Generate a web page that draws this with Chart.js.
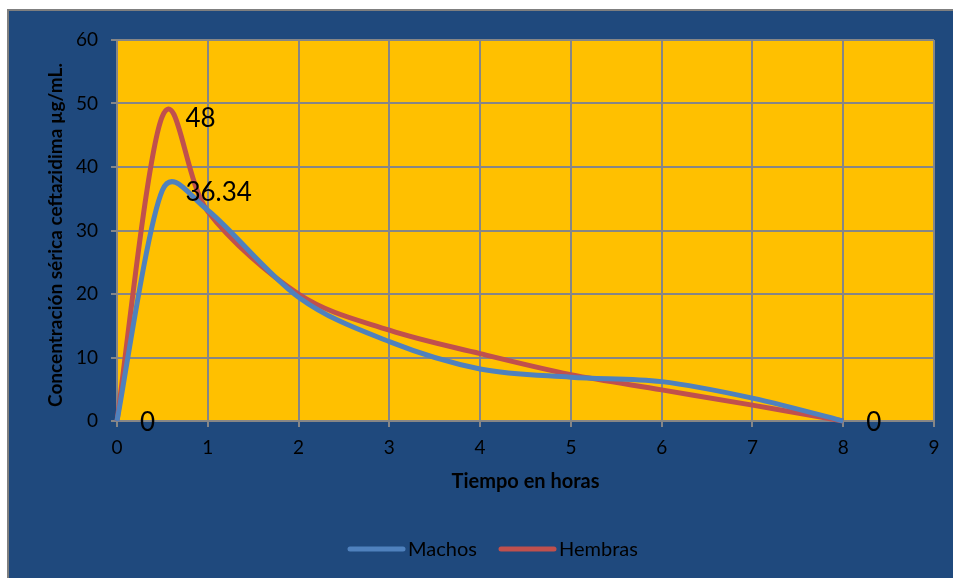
<!DOCTYPE html>
<html>
<head>
<meta charset="utf-8">
<script src="https://cdn.jsdelivr.net/npm/chart.js@4"></script>
<style>
  html, body { margin: 0; padding: 0; background: #ffffff; }
  #wrap { width: 953px; height: 578px; position: relative; }
</style>
</head>
<body>
<div id="wrap"><canvas id="c" width="953" height="578"></canvas></div>
<script>
// ---- data ----
const timeHours = [0, 0.5, 1, 2, 3, 4, 5, 6, 7, 8];
const machos    = [0, 36.34, 33.2, 19.5, 12.5, 8.2, 6.9, 6.2, 3.6, 0];
const hembras   = [0, 48, 33, 20, 14.3, 10.6, 7.3, 4.9, 2.5, 0];
const machosLabels  = [null, '36.34', null, null, null, null, null, null, null, '0'];
const hembrasLabels = ['0', '48', null, null, null, null, null, null, null, null];
const seriesNames = ['Machos', 'Hembras'];
const xTitle = 'Tiempo en horas';
const yTitle = 'Concentración sérica ceftazidima µg/mL.';
const yTicks = { min: 0, max: 60, step: 10 };
const xTicks = { min: 0, max: 9, step: 1 };

const BLUE_BG = '#1F497D';
const PLOT_BG = '#FFC000';
const GRID = '#868686';
const C_M = '#4F81BD';
const C_H = '#C0504D';
const FONT = 'Lato, "Open Sans", sans-serif';

const toXY = (xs, ys) => xs.map((x, i) => ({ x: x, y: ys[i] }));

// Excel-like smoothing: Catmull-Rom control points on the library's own point positions,
// each handle limited to half of its adjacent segment
const smoothing = {
  id: 'smoothing',
  beforeDatasetDraw(chart, args) {
    const meta = chart.getDatasetMeta(args.index);
    const pts = meta.data;
    const n = pts.length;
    const dist = (a, b) => Math.hypot(b.x - a.x, b.y - a.y);
    for (let i = 0; i < n; i++) {
      const p = pts[i];
      const prev = pts[Math.max(0, i - 1)];
      const next = pts[Math.min(n - 1, i + 1)];
      const dx = (next.x - prev.x) / 6;
      const dy = (next.y - prev.y) / 6;
      const len = Math.hypot(dx, dy) || 1;
      const kIn = Math.min(1, 0.5 * dist(prev, p) / len);
      const kOut = Math.min(1, 0.5 * dist(p, next) / len);
      p.cp1x = p.x - dx * kIn; p.cp1y = p.y - dy * kIn;
      p.cp2x = p.x + dx * kOut; p.cp2y = p.y + dy * kOut;
    }
    if (meta.dataset) {
      meta.dataset._pointsUpdated = true;
      meta.dataset._path = undefined;
    }
  }
};

const decor = {
  id: 'decor',
  beforeDraw(chart) {
    const ctx = chart.ctx;
    const a = chart.chartArea;
    ctx.save();
    ctx.fillStyle = '#ffffff';
    ctx.fillRect(0, 0, chart.width, chart.height);
    ctx.fillStyle = BLUE_BG;
    ctx.fillRect(8, 10, chart.width - 8, chart.height - 10);
    ctx.strokeStyle = '#7f7f7f';
    ctx.lineWidth = 2;
    ctx.beginPath();
    ctx.moveTo(8, chart.height);
    ctx.lineTo(8, 10);
    ctx.lineTo(chart.width, 10);
    ctx.stroke();
    ctx.fillStyle = PLOT_BG;
    ctx.fillRect(a.left, a.top, a.right - a.left, a.bottom - a.top);
    ctx.restore();
  },
  afterDraw(chart) {
    const ctx = chart.ctx;
    const a = chart.chartArea;
    ctx.save();
    // axis titles
    ctx.fillStyle = '#000';
    ctx.textAlign = 'center';
    ctx.textBaseline = 'middle';
    ctx.font = 'bold 20px ' + FONT;
    ctx.fillText(xTitle, (a.left + a.right) / 2, 482);
    ctx.save();
    ctx.font = 'bold 19px ' + FONT;
    ctx.translate(56, 235);
    ctx.rotate(-Math.PI / 2);
    ctx.fillText(yTitle, 0, 0);
    ctx.restore();

    // data labels
    ctx.font = '26px ' + FONT;
    ctx.textAlign = 'left';
    ctx.textBaseline = 'middle';
    const lbls = [machosLabels, hembrasLabels];
    chart.data.datasets.forEach((ds, di) => {
      const meta = chart.getDatasetMeta(di);
      meta.data.forEach((pt, i) => {
        const t = lbls[di][i];
        if (t) ctx.fillText(t, pt.x + 23, pt.y + 2);
      });
    });

    // legend
    const items = [
      { name: seriesNames[0], color: C_M, x0: 350, x1: 403, tx: 408 },
      { name: seriesNames[1], color: C_H, x0: 501, x1: 554, tx: 559 }
    ];
    const ly = 549;
    ctx.font = '20px ' + FONT;
    items.forEach(it => {
      ctx.strokeStyle = it.color;
      ctx.lineWidth = 5;
      ctx.lineCap = 'round';
      ctx.beginPath();
      ctx.moveTo(it.x0, ly);
      ctx.lineTo(it.x1, ly);
      ctx.stroke();
      ctx.fillStyle = '#000';
      ctx.fillText(it.name, it.tx, ly + 1);
    });
    ctx.restore();
  }
};

new Chart(document.getElementById('c'), {
  type: 'line',
  data: {
    datasets: [
      { label: seriesNames[0], data: toXY(timeHours, machos), borderColor: C_M, borderWidth: 5,
        pointRadius: 0, tension: 0.3, fill: false, clip: 6 },
      { label: seriesNames[1], data: toXY(timeHours, hembras), borderColor: C_H, borderWidth: 5,
        pointRadius: 0, tension: 0.3, fill: false, clip: 6 }
    ]
  },
  options: {
    responsive: false,
    animation: false,
    devicePixelRatio: 1,
    layout: { padding: { top: 40, right: 19, left: 0, bottom: 0 } },
    plugins: { legend: { display: false }, tooltip: { enabled: false } },
    scales: {
      x: {
        type: 'linear', min: xTicks.min, max: xTicks.max,
        ticks: { stepSize: xTicks.step, color: '#000', font: { family: FONT, size: 19 }, padding: 9, maxRotation: 0 },
        grid: { color: GRID, lineWidth: 2, tickLength: 6, tickColor: GRID },
        border: { color: GRID, width: 2 },
        afterFit(s) { s.height = 157; }
      },
      y: {
        min: yTicks.min, max: yTicks.max,
        ticks: { stepSize: yTicks.step, color: '#000', font: { family: FONT, size: 19 }, padding: 13 },
        grid: { color: GRID, lineWidth: 2, tickLength: 6, tickColor: GRID },
        border: { color: GRID, width: 2 },
        afterFit(s) { s.width = 117; }
      }
    }
  },
  plugins: [smoothing, decor]
});
</script>
</body>
</html>
